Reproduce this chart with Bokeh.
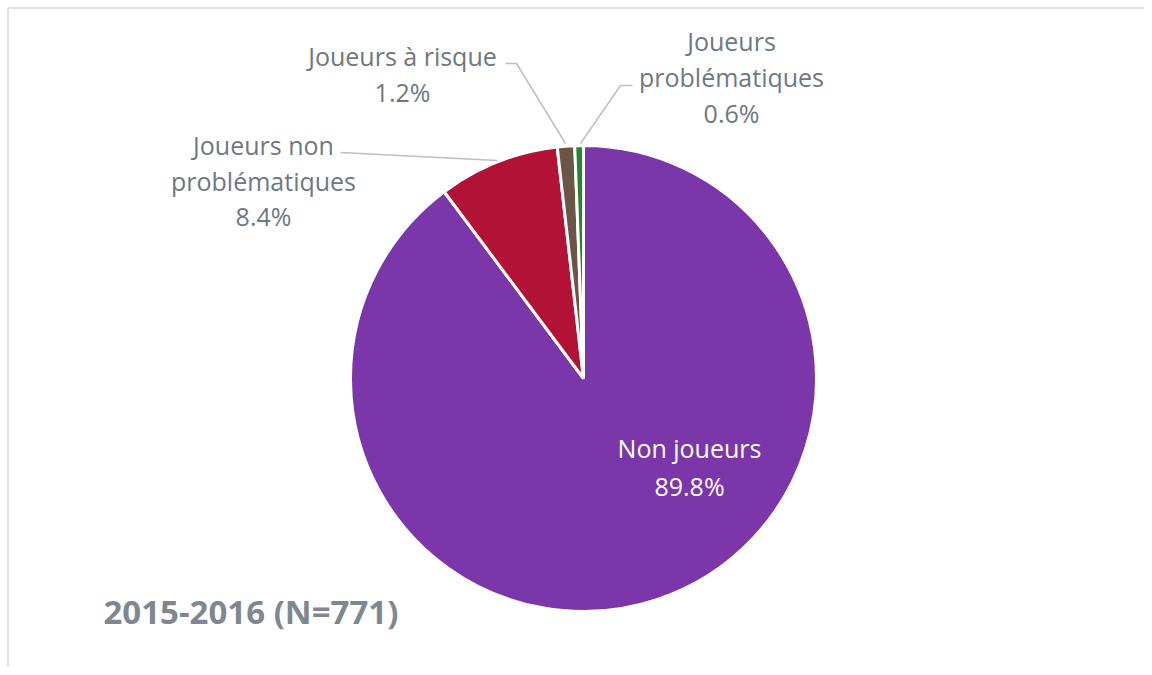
from bokeh.plotting import figure
from bokeh.models import ColumnDataSource
from bokeh.core.properties import value
from bokeh.embed import file_html
from bokeh.resources import INLINE
import numpy as np

categories = ["Non joueurs", "Joueurs non problématiques", "Joueurs à risque", "Joueurs problématiques"]
percents = [89.8, 8.4, 1.2, 0.6]
colors = ["#7b37a9", "#b31237", "#6b5545", "#1f8a2c"]
title_text = "2015-2016 (N=771)"

W, H = 1144, 667
FONT = value("Open Sans")

p = figure(width=W, height=H, x_range=(0, W), y_range=(0, H),
           output_backend="svg", toolbar_location=None, min_border=0)
p.axis.visible = False
p.grid.visible = False
p.outline_line_color = None
p.background_fill_color = "white"
p.border_fill_color = "white"

def px(x):
    return x

def py(y):
    return H - y

# pie geometry (page pixels)
cx, cy, r = px(583), py(378), 233

fr = np.array(percents) / sum(percents)
cum = np.concatenate([[0], np.cumsum(fr)])
start = np.pi / 2 - cum[1:] * 2 * np.pi
end = np.pi / 2 - cum[:-1] * 2 * np.pi
src = ColumnDataSource(dict(start=start, end=end, color=colors, cat=categories))
p.wedge(x=cx, y=cy, radius=r, start_angle="start", end_angle="end",
        fill_color="color", line_color="white", line_width=3, source=src)

# chart border (left & top)
p.line([px(7.5), px(7.5), W], [0, py(7.5), py(7.5)], line_color="#d9d9d9", line_width=1.5)

# leader lines
lead = "#bfbfbf"
p.line([px(340), px(497)], [py(152), py(160)], line_color=lead, line_width=1.5)
p.line([px(505), px(516), px(565)], [py(63), py(63), py(143)], line_color=lead, line_width=1.5)
p.line([px(632), px(620), px(580)], [py(85), py(85), py(143)], line_color=lead, line_width=1.5)

grey = "#6e7881"
fs = "25px"

def lbl(lines, x, ys, color=grey):
    p.text(x=[px(x)] * len(lines), y=[py(y) for y in ys], text=lines,
           text_font=FONT, text_font_size=fs, text_color=color,
           text_align="center", text_baseline="middle")

lbl([categories[0], f"{percents[0]}%"], 689, [447, 485], color="white")
lbl(["Joueurs non", "problématiques", f"{percents[1]}%"], 263, [144, 180, 215])
lbl(["Joueurs à risque", f"{percents[2]}%"], 402, [55, 91])
lbl(["Joueurs", "problématiques", f"{percents[3]}%"], 731, [40, 76, 112])

p.text(x=[px(103)], y=[py(611)], text=[title_text], text_font=FONT,
       text_font_size="33px", text_font_style="bold", text_color="#7f8890",
       text_align="left", text_baseline="middle")

open("out.html", "w").write(file_html(p, INLINE))
